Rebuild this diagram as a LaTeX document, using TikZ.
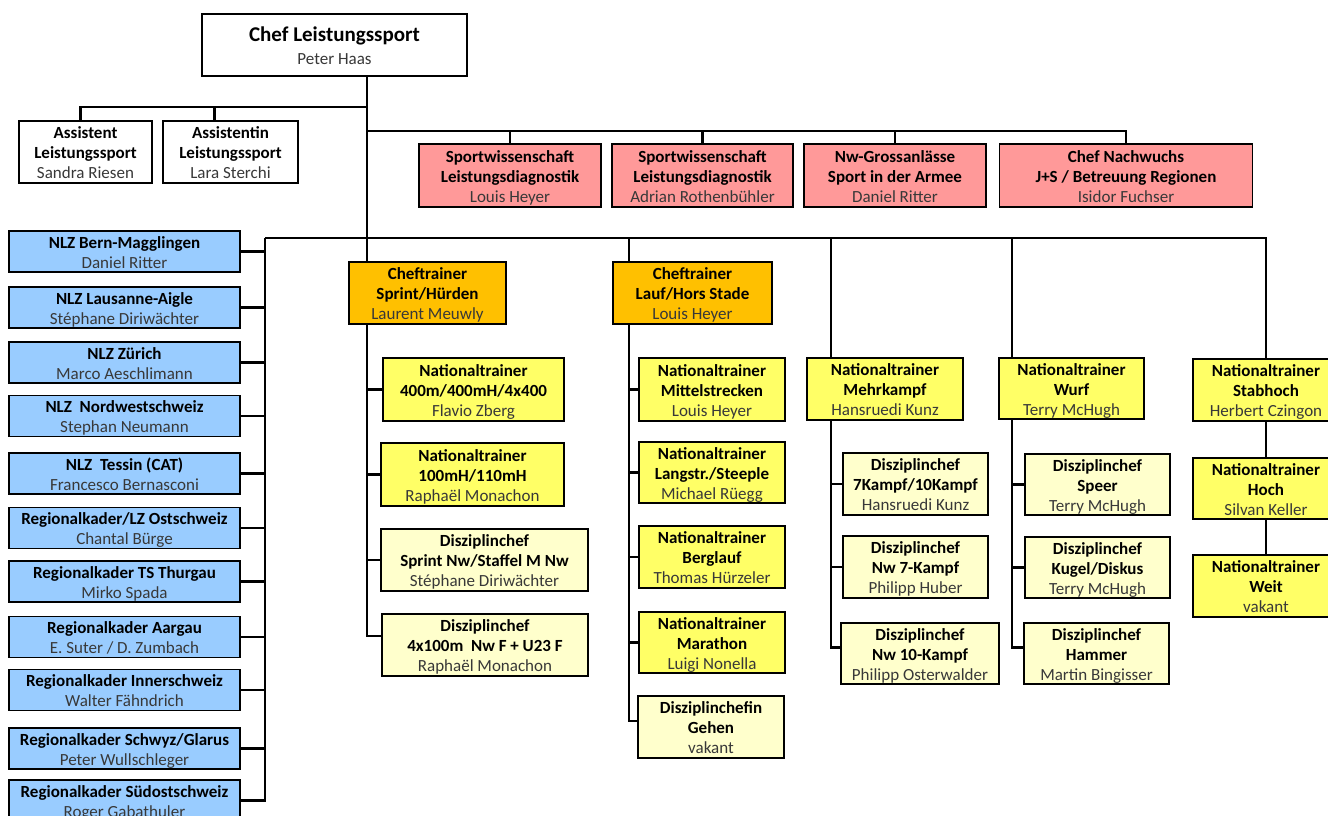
\documentclass[tikz,border=0pt]{standalone}
\usepackage{fontspec}
\setmainfont{Carlito}
\definecolor{sciencepink}{HTML}{FF9999}
\definecolor{centreblue}{HTML}{99CCFF}
\definecolor{chieforange}{HTML}{FFC000}
\definecolor{coachyellow}{HTML}{FFFF66}
\definecolor{leadcream}{HTML}{FFFFCC}
\definecolor{namegray}{HTML}{383838}
\newcommand\who[1]{{\mdseries\color{namegray}#1}}
\tikzset{
  unit/.style={draw, line width=1.6pt, inner sep=0pt, outer sep=0pt, align=center,
    minimum height=62, text height=53pt, text depth=0pt,
    font=\fontsize{17}{20}\selectfont\bfseries},
  staff/.style={unit, fill=white},
  science/.style={unit, fill=sciencepink, minimum height=63},
  centre/.style={unit, fill=centreblue, minimum height=41, minimum width=231, text height=33pt},
  chief/.style={unit, fill=chieforange},
  coach/.style={unit, fill=coachyellow},
  lead/.style={unit, fill=leadcream},
  link/.style={line width=2.6pt},
}
\begin{document}
\begin{tikzpicture}[x=1pt,y=-1pt]
    \path[use as bounding box, clip] (0,0) rectangle (1328,816);
    % top
    \node[staff, minimum width=265, text height=38pt, font=\fontsize{21}{22}\selectfont\bfseries] (chef) at (334.5,45)
        {Chef Leistungssport\\{\fontsize{17}{22}\selectfont\who{Peter Haas}}};
    \node[staff, minimum width=133] (asst1) at (85.5,152) {Assistent\\Leistungssport\\\who{Sandra Riesen}};
    \node[staff, minimum width=135] (asst2) at (230.5,152) {Assistentin\\Leistungssport\\\who{Lara Sterchi}};
    \node[science, minimum width=182] (sci1) at (510,175.5) {Sportwissenschaft\\Leistungsdiagnostik\\\who{Louis Heyer}};
    \node[science, minimum width=181] (sci2) at (702.5,175.5) {Sportwissenschaft\\Leistungsdiagnostik\\\who{Adrian Rothenbühler}};
    \node[science, minimum width=182] (sci3) at (895,175.5) {Nw-Grossanlässe\\Sport in der Armee\\\who{Daniel Ritter}};
    \node[science, minimum width=253] (sci4) at (1126,175.5) {Chef Nachwuchs\\J+S / Betreuung Regionen\\\who{Isidor Fuchser}};
    % leistungszentren
    \node[centre] (lz1) at (124.5,251.5) {NLZ Bern-Magglingen\\\who{Daniel Ritter}};
    \node[centre] (lz2) at (124.5,307.5) {NLZ Lausanne-Aigle\\\who{Stéphane Diriwächter}};
    \node[centre] (lz3) at (124.5,362.5) {NLZ Zürich\\\who{Marco Aeschlimann}};
    \node[centre] (lz4) at (124.5,416) {NLZ\ \ Nordwestschweiz\\\who{Stephan Neumann}};
    \node[centre] (lz5) at (124.5,473.5) {NLZ\ \ Tessin (CAT)\\\who{Francesco Bernasconi}};
    \node[centre] (lz6) at (124.5,528) {Regionalkader/LZ Ostschweiz\\\who{Chantal Bürge}};
    \node[centre] (lz7) at (124.5,581.5) {Regionalkader TS Thurgau\\\who{Mirko Spada}};
    \node[centre] (lz8) at (124.5,637) {Regionalkader Aargau\\\who{E. Suter / D. Zumbach}};
    \node[centre] (lz9) at (124.5,690) {Regionalkader Innerschweiz\\\who{Walter Fähndrich}};
    \node[centre] (lz10) at (124.5,748.5) {Regionalkader Schwyz/Glarus\\\who{Peter Wullschleger}};
    \node[centre] (lz11) at (124.5,800.5) {Regionalkader Südostschweiz\\\who{Roger Gabathuler}};
    % sprint
    \node[chief, minimum width=157] (sprint) at (427.5,293) {Cheftrainer\\Sprint/Hürden\\\who{Laurent Meuwly}};
    \node[coach, minimum width=181, minimum height=63] (sp1) at (473.5,389.5) {Nationaltrainer\\400m/400mH/4x400\\\who{Flavio Zberg}};
    \node[coach, minimum width=183, minimum height=63] (sp2) at (472.5,474.5) {Nationaltrainer\\100mH/110mH\\\who{Raphaël Monachon}};
    \node[lead, minimum width=207] (sp3) at (484.5,560) {Disziplinchef\\Sprint Nw/Staffel M Nw\\\who{Stéphane Diriwächter}};
    \node[lead, minimum width=206] (sp4) at (485,645) {Disziplinchef\\4x100m\ \ Nw F + U23 F\\\who{Raphaël Monachon}};
    % lauf
    \node[chief, minimum width=159] (lauf) at (692.5,293) {Cheftrainer\\Lauf/Hors Stade\\\who{Louis Heyer}};
    \node[coach, minimum width=146, minimum height=63] (lf1) at (712,389.5) {Nationaltrainer\\Mittelstrecken\\\who{Louis Heyer}};
    \node[coach, minimum width=146, minimum height=61] (lf2) at (712,472.5) {Nationaltrainer\\Langstr./Steeple\\\who{Michael Rüegg}};
    \node[coach, minimum width=146] (lf3) at (712,557) {Nationaltrainer\\Berglauf\\\who{Thomas Hürzeler}};
    \node[coach, minimum width=146, minimum height=61] (lf4) at (712,642.5) {Nationaltrainer\\Marathon\\\who{Luigi Nonella}};
    \node[lead, minimum width=146] (lf5) at (711,727) {Disziplinchefin\\Gehen\\\who{vakant}};
    % mehrkampf
    \node[coach, minimum width=156] (mehr) at (885,389) {Nationaltrainer\\Mehrkampf\\\who{Hansruedi Kunz}};
    \node[lead, minimum width=145] (mk1) at (915.5,484) {Disziplinchef\\7Kampf/10Kampf\\\who{Hansruedi Kunz}};
    \node[lead, minimum width=145] (mk2) at (915.5,567) {Disziplinchef\\Nw 7-Kampf\\\who{Philipp Huber}};
    \node[lead, minimum width=158, minimum height=61] (mk3) at (920,653.5) {Disziplinchef\\Nw 10-Kampf\\\who{Philipp Osterwalder}};
    % wurf
    \node[coach, minimum width=145, minimum height=61] (wurf) at (1071.5,388.5) {Nationaltrainer\\Wurf\\\who{Terry McHugh}};
    \node[lead, minimum width=145, minimum height=61] (wf1) at (1097.5,484.5) {Disziplinchef\\Speer\\\who{Terry McHugh}};
    \node[lead, minimum width=145, minimum height=61] (wf2) at (1097.5,567.5) {Disziplinchef\\Kugel/Diskus\\\who{Terry McHugh}};
    \node[lead, minimum width=145, minimum height=61] (wf3) at (1096.5,653.5) {Disziplinchef\\Hammer\\\who{Martin Bingisser}};
    % sprung
    \node[coach, minimum width=146] (stab) at (1266,390) {Nationaltrainer\\Stabhoch\\\who{Herbert Czingon}};
    \node[coach, minimum width=146, minimum height=61] (hoch) at (1266,488.5) {Nationaltrainer\\Hoch\\\who{Silvan Keller}};
    \node[coach, minimum width=146] (weit) at (1266,586) {Nationaltrainer\\Weit\\\who{vakant}};
    % lines
    \coordinate (hub) at (367,238);
    \coordinate (lbus) at (265,238);
    \coordinate (abus) at (367,107);
    \coordinate (pbus) at (367,131);
    \coordinate (lauftop) at (629,238);
    \coordinate (mehrtop) at (831,238);
    \coordinate (wurftop) at (1012,238);
    \draw[link] (chef.south -| hub) -- (sprint.north -| hub);
    \draw[link] ([xshift=-5]asst1.north) |- (abus);
    \draw[link] ([xshift=-16]asst2.north) |- (abus);
    \draw[link] (pbus) -| (sci4.north);
    \foreach \n in {sci1,sci2,sci3}
        \draw[link] (\n.north) -- (\n.north |- pbus);
    \draw[link] (lbus) -| (stab.north);
    \draw[link] (lbus) |- (lz11.east);
    \foreach \i in {1,...,10}
        \draw[link] (lz\i.east) -- (lz\i.east -| lbus);
    \draw[link] (sprint.south -| hub) |- ([yshift=9]sp4.west);
    \foreach \n in {sp1,sp2,sp3}
        \draw[link] (\n.west) -- (\n.west -| hub);
    \draw[link] (lauftop) -- (lauf.north -| lauftop);
    \draw[link] (lauf.south -| lauftop) |- ([yshift=6]lf5.west);
    \foreach \n in {lf1,lf2,lf3,lf4}
        \draw[link] (\n.west) -- (\n.west -| lauftop);
    \draw[link] (mehrtop) -- (mehr.north -| mehrtop);
    \draw[link] (mehr.south -| mehrtop) |- ([yshift=6]mk3.west);
    \foreach \n in {mk1,mk2}
        \draw[link] (\n.west) -- (\n.west -| mehrtop);
    \draw[link] (wurftop) -- (wurf.north -| wurftop);
    \draw[link] (wurf.south -| wurftop) |- ([yshift=6]wf3.west);
    \foreach \n in {wf1,wf2}
        \draw[link] (\n.west) -- (\n.west -| wurftop);
    \draw[link] (stab) -- (hoch);
    \draw[link] (hoch) -- (weit);
\end{tikzpicture}
\end{document}
